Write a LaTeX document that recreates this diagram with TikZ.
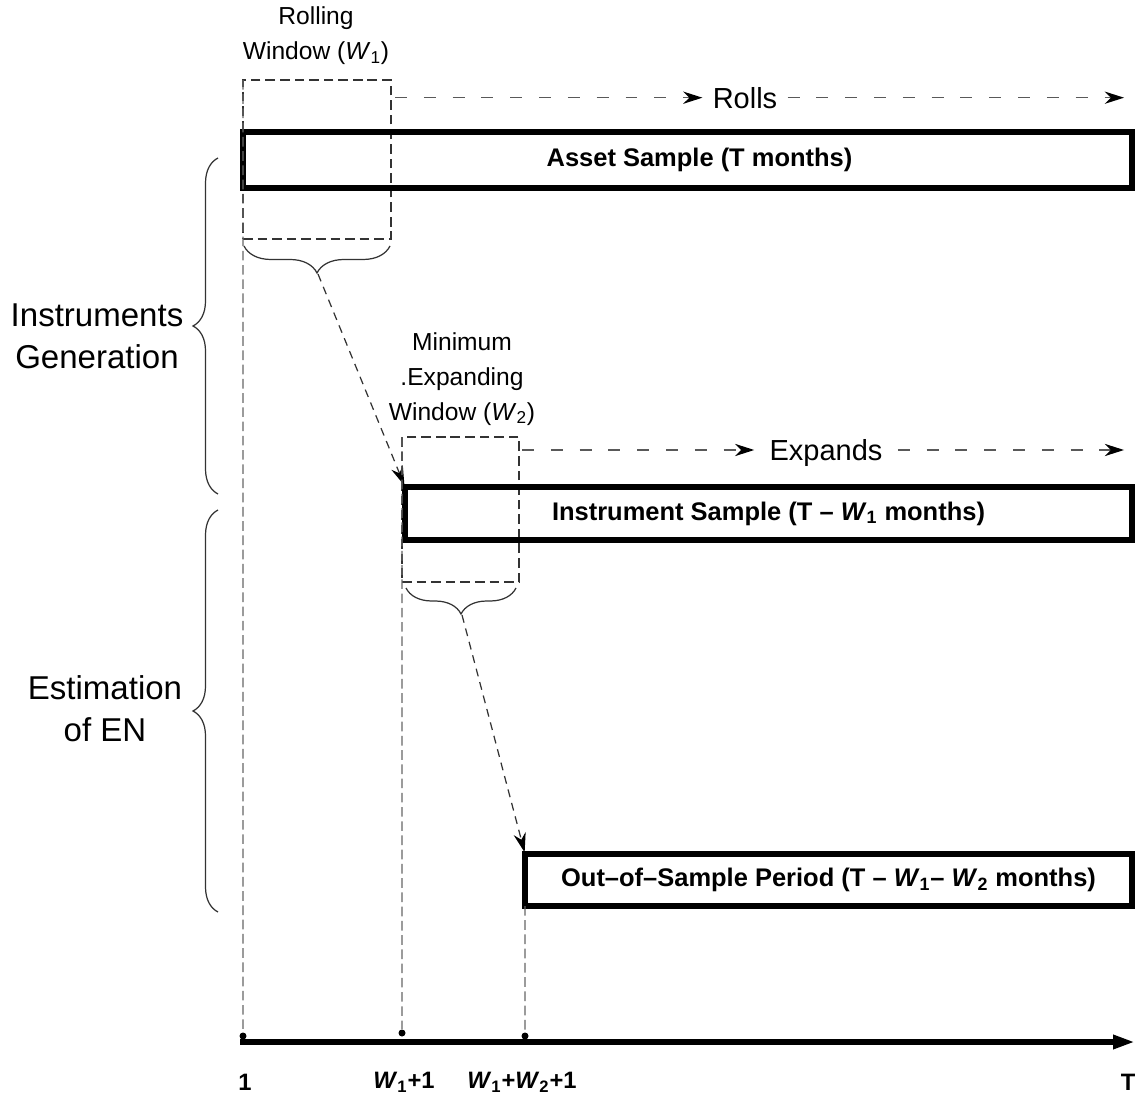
\documentclass[tikz,border=0pt]{standalone}
\usepackage{fontspec}
\setmainfont{Liberation Sans}
\usetikzlibrary{arrows.meta,positioning,decorations.pathreplacing,calc}
\tikzset{
  % thick frames of the three sample periods
  period/.style={draw, rectangle, line width=3.7pt, outer sep=0pt, inner sep=0pt,
  font=\fontsize{14.5}{17}\selectfont\bfseries},
  window/.style={draw=black!80, rectangle, dash pattern=on 5.5pt off 2.8pt,
  line width=0.7pt, outer sep=0pt, inner sep=0pt},
  guide/.style={draw=black!60, dash pattern=on 5.5pt off 2.6pt, line width=0.7pt},
  moves/.style={draw=black!65, dash pattern=on 6.8pt off 9.6pt, line width=0.8pt,
  -{Stealth[length=11pt,width=7pt,black]}},
  link/.style={draw=black!80, dash pattern=on 4.5pt off 3.4pt, line width=0.7pt,
  -{Stealth[length=11pt,width=7pt,black]}},
  curly/.style={draw=black!80, line width=0.7pt, decorate},
  tick/.style={circle, fill, inner sep=0pt, minimum size=0.14cm},
  ticklabel/.style={font=\fontsize{13.5}{16}\selectfont\bfseries},
  phase/.style={align=center, font=\fontsize{18.8}{23.8}\selectfont},
  winlabel/.style={align=center, font=\fontsize{14}{19.8}\selectfont},
  movelabel/.style={font=\fontsize{16.5}{20}\selectfont, text depth=0pt}}

\begin{document}
\begin{tikzpicture}[x=0.02cm, y=-0.02cm]
\useasboundingbox (0,0) rectangle (1138,1094);

% windows (dashed) under the sample frames
\node (rollwin) [window, minimum width=2.96cm, minimum height=3.18cm] at (317,159.5) {};
\node (expwin) [window, minimum width=2.34cm, minimum height=2.9cm] at (460.5,509.5) {};
\node [winlabel] at (316,36) {Rolling\\Window (\textit{W}\textsubscript{1})};
\node [winlabel] at (462,379) {Minimum\\.Expanding\\Window (\textit{W}\textsubscript{2})};

% sample periods
\node (asset) [period, minimum width=17.78cm, minimum height=1.12cm] at (687.5,160) {\hspace*{0.48cm}Asset Sample (T months)};
\node (inst) [period, minimum width=14.54cm, minimum height=1.06cm] at (768.5,513.5) {Instrument Sample (T -- \textit{W}\textsubscript{1} months)};
\node (oos) [period, minimum width=12.14cm, minimum height=1.04cm] at (828.5,880) {Out--of--Sample Period (T -- \textit{W}\textsubscript{1}-- \textit{W}\textsubscript{2} months)};

% rolls / expands
\coordinate (rollstart) at (395,97.7);
\coordinate (rollend) at (1124,97.7);
\node (rolls) [movelabel, inner xsep=0.2cm] at (745,97.7) {Rolls};
\draw [moves] (rollstart) -- (rolls.west);
\draw [moves] (rolls.east) -- (rollend);

\coordinate (expstart) at (522,450);
\coordinate (expend) at (1124,450);
\node (expands) [movelabel, inner xsep=0.3cm] at (826,450) {Expands};
\draw [moves] (expstart) -- (expands.west);
\draw [moves] (expands.east) -- (expend);

% braces under the windows
\draw [curly, decoration={brace, mirror, amplitude=0.54cm}] (244,246) -- (390,246);
\coordinate (rolltip) at (318,274);
\draw [curly, decoration={brace, mirror, amplitude=0.52cm}] (406,588) -- (516,588);
\coordinate (exptip) at (462,615);

\draw [link, shorten >=1pt] (rolltip) -- (inst.north west);
\draw [link, shorten >=1pt] (exptip) -- (oos.north west);

% phases on the left
\draw [curly, decoration={brace, amplitude=0.5cm}] (218,494) -- (218,158);
\draw [curly, decoration={brace, amplitude=0.5cm}] (218,912) -- (218,510);
\node [phase] at (97,336) {Instruments\\Generation};
\node [phase] at (105,709) {Estimation\\of EN};

% time axis
\coordinate (axstart) at (240,1042);
\coordinate (axend) at (1135,1042);
\draw [line width=3.8pt, -{Triangle[length=12.5pt,width=7.5pt]}] (axstart) -- (axend);

\node (t1) [tick] at (243,1036) {};
\node (tw1) [tick] at (402,1033) {};
\node (tw2) [tick] at (525,1036) {};

\draw [guide] (rollwin.north west) -- (t1);
\draw [guide] (expwin.north west) -- (tw1);
\draw [guide] (oos.south west) -- (tw2);

\node [ticklabel] at (245,1082) {1};
\node [ticklabel] at (404,1082) {\textit{W}\textsubscript{1}+1};
\node [ticklabel] at (522,1082) {\textit{W}\textsubscript{1}+\textit{W}\textsubscript{2}+1};
\node [ticklabel] at (1128,1082) {T};

\end{tikzpicture}
\end{document}
